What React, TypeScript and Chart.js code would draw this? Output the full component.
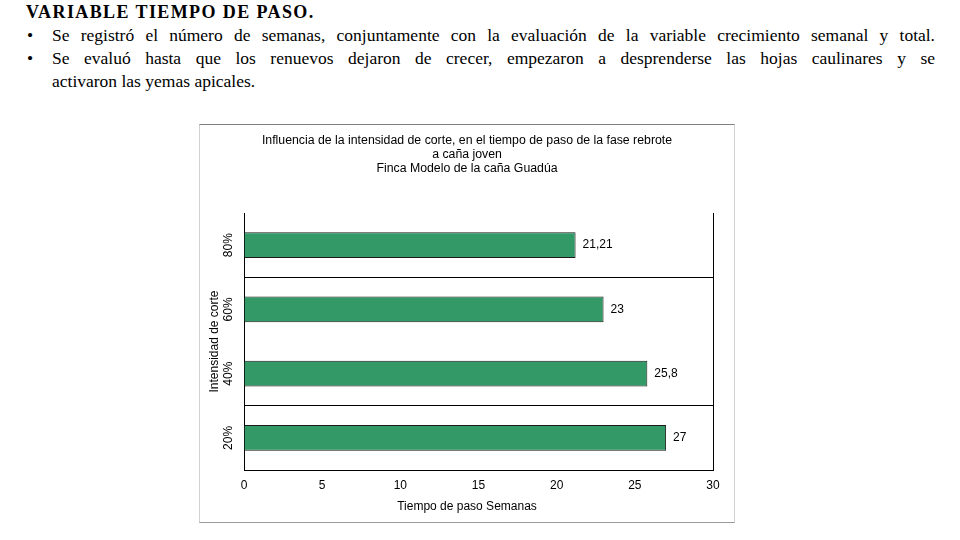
import React, { useEffect, useRef } from "react";
import { Chart, registerables } from "chart.js";

Chart.register(...registerables);

const categories = ["80%", "60%", "40%", "20%"];
const values = [21.21, 23, 25.8, 27];
const valueLabels = ["21,21", "23", "25,8", "27"];
const xMin = 0;
const xMax = 30;
const xStep = 5;
const titleLines = [
  "Influencia de la intensidad de corte, en el tiempo de paso de la fase rebrote",
  "a caña joven",
  "Finca Modelo de la caña Guadúa",
];
const xTitle = "Tiempo de paso Semanas";
const yTitle = "Intensidad de corte";
const heading = "VARIABLE TIEMPO DE PASO.";
const bullet1 =
  "Se registró el número de semanas, conjuntamente con la evaluación de la variable crecimiento semanal y total.";
const bullet2a =
  "Se evaluó hasta que los renuevos dejaron de crecer, empezaron a desprenderse las hojas caulinares y se";
const bullet2b = "activaron las yemas apicales.";

const FONT = "'Liberation Sans', Arial, sans-serif";

const valueLabelPlugin = {
  id: "valueLabelPlugin",
  afterDatasetsDraw(chart: any) {
    const meta = chart.getDatasetMeta(0);
    const ctx = chart.ctx;
    ctx.save();
    ctx.font = `12px ${FONT}`;
    ctx.fillStyle = "#000";
    ctx.textAlign = "left";
    ctx.textBaseline = "middle";
    meta.data.forEach((el: any, i: number) => {
      ctx.fillText(valueLabels[i], el.x + 7, el.y);
    });
    ctx.restore();
  },
};

function BarChart() {
  const ref = useRef<HTMLCanvasElement | null>(null);
  useEffect(() => {
    if (!ref.current) return;
    Chart.defaults.font.family = FONT;
    const chart = new Chart(ref.current, {
      type: "bar",
      data: {
        labels: categories,
        datasets: [
          {
            data: values,
            backgroundColor: "#339966",
            borderColor: "#1a1a1a",
            borderWidth: 1,
            barPercentage: 0.4,
            categoryPercentage: 1,
          },
        ],
      },
      options: {
        indexAxis: "y",
        responsive: false,
        animation: false,
        layout: { padding: 0 },
        plugins: {
          legend: { display: false },
          tooltip: { enabled: false },
          title: {
            display: true,
            text: titleLines,
            color: "#000",
            font: { size: 12.3, weight: "normal", lineHeight: 14 / 12.3 },
            padding: { top: 9, bottom: 37 },
          },
          subtitle: {
            display: true,
            position: "bottom",
            text: xTitle,
            color: "#000",
            font: { size: 12, weight: "normal", lineHeight: 1.2 },
            padding: { top: 0, bottom: 8 },
          },
        },
        scales: {
          x: {
            type: "linear",
            min: xMin,
            max: xMax,
            ticks: {
              stepSize: xStep,
              color: "#000",
              font: { size: 12 },
              padding: 8,
            },
            grid: {
              drawTicks: false,
              color: (c: any) =>
                c.tick && c.tick.value === xMax ? "#000" : "rgba(0,0,0,0)",
              lineWidth: 1,
            },
            border: { display: true, color: "#000", width: 1 },
            afterFit: (s: any) => {
              s.height = 397 - 345 - (8 + 14.4);
            },
          },
          y: {
            type: "category",
            ticks: {
              color: "#000",
              font: { size: 12 },
              minRotation: 90,
              maxRotation: 90,
              crossAlign: "center",
              padding: 3,
            },
            grid: {
              offset: true,
              drawTicks: false,
              color: (c: any) =>
                c.index === 1 || c.index === 3 ? "#000" : "rgba(0,0,0,0)",
              lineWidth: 1,
            },
            border: { display: true, color: "#000", width: 1 },
            title: {
              display: true,
              text: yTitle,
              color: "#000",
              font: { size: 12 },
              padding: { top: 7, bottom: 0 },
            },
            afterFit: (s: any) => {
              s.width = 44;
            },
          },
          yRight: {
            type: "linear",
            position: "right",
            display: true,
            ticks: { display: false },
            grid: { display: false, drawTicks: false },
            border: { display: false },
            afterFit: (s: any) => {
              s.width = 21;
            },
          },
        },
      },
      plugins: [valueLabelPlugin],
    } as any);
    return () => chart.destroy();
  }, []);
  return <canvas ref={ref} width={534} height={397} style={{ display: "block" }} />;
}

export default function App() {
  const serif = "'Liberation Serif', 'Times New Roman', serif";
  const textStyle: React.CSSProperties = {
    fontFamily: serif,
    fontSize: 17.5,
    lineHeight: "23px",
    color: "#000",
  };
  return (
    <div
      style={{
        position: "absolute",
        left: 0,
        top: 0,
        width: 960,
        height: 540,
        background: "#fff",
        overflow: "hidden",
      }}
    >
      <div style={{ position: "absolute", left: 26, top: 1, width: 909, ...textStyle }}>
        <div style={{ fontWeight: "bold", fontSize: 18, letterSpacing: "1.4px" }}>{heading}</div>
        <div style={{ position: "relative", paddingLeft: 26 }}>
          <span style={{ position: "absolute", left: 1, top: 0 }}>•</span>
          <div style={{ textAlign: "justify", textAlignLast: "justify" } as any}>{bullet1}</div>
        </div>
        <div style={{ position: "relative", paddingLeft: 26 }}>
          <span style={{ position: "absolute", left: 1, top: 0 }}>•</span>
          <div style={{ textAlign: "justify", textAlignLast: "justify" } as any}>{bullet2a}</div>
          <div>{bullet2b}</div>
        </div>
      </div>
      <div
        style={{
          position: "absolute",
          left: 199,
          top: 124,
          width: 534,
          height: 397,
          borderTop: "1px solid #7f7f7f",
          borderBottom: "1px solid #9a9a9a",
          borderLeft: "1px solid #d0d0d0",
          borderRight: "1px solid #d0d0d0",
          background: "#fff",
        }}
      >
        <BarChart />
      </div>
    </div>
  );
}
